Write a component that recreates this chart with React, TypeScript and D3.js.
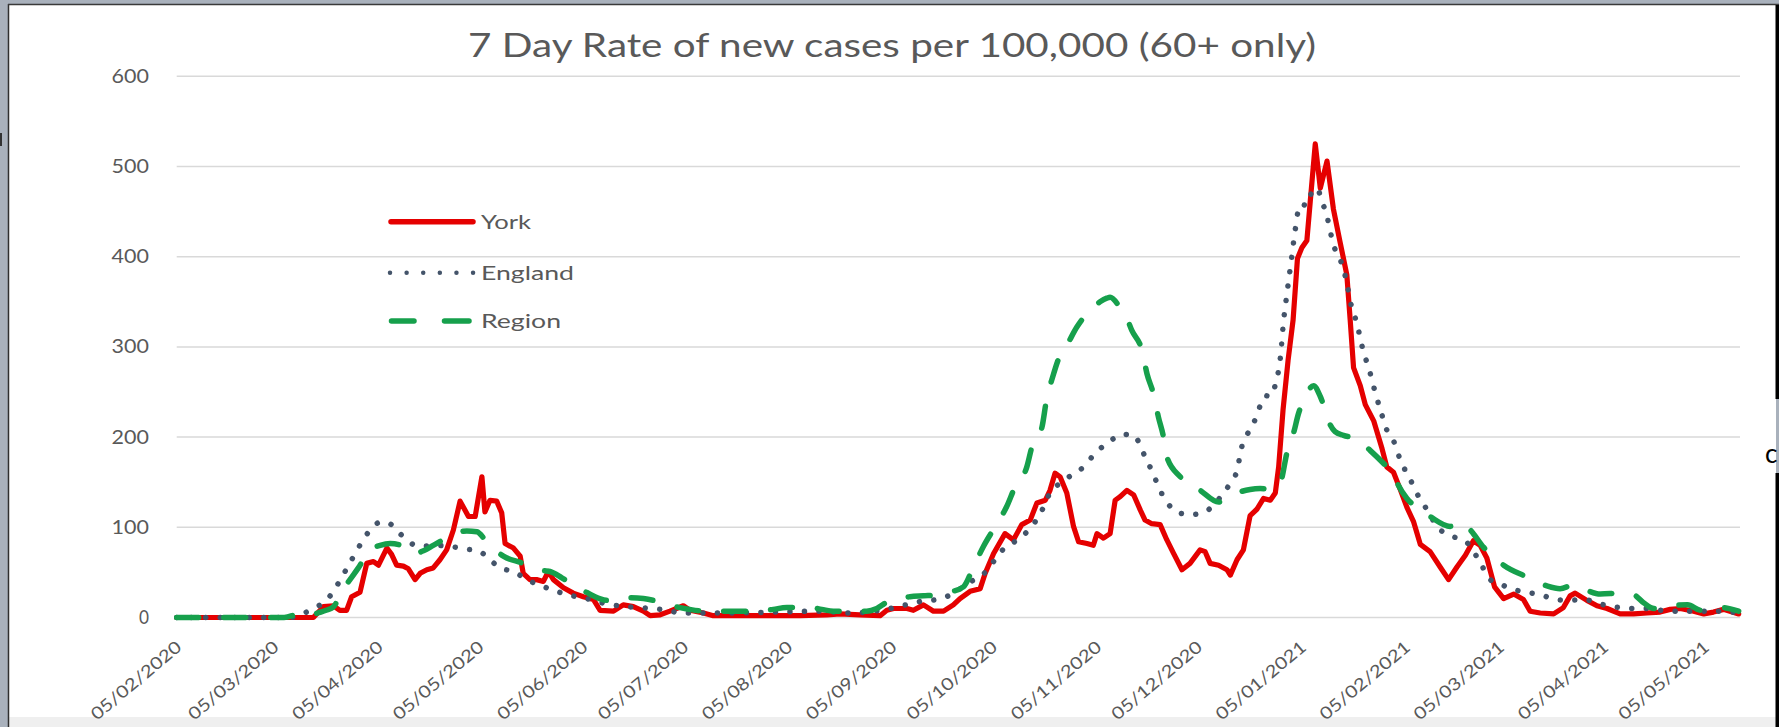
import React from "react";
import * as d3 from "d3";

// x values are days since 05/02/2020
const startDate = "05/02/2020";
const lastDay = 465.6;

const title = "7 Day Rate of new cases per 100,000 (60+ only)";
const yTicks = [0, 100, 200, 300, 400, 500, 600];
const xTickLabels = [
  "05/02/2020", "05/03/2020", "05/04/2020", "05/05/2020", "05/06/2020", "05/07/2020",
  "05/08/2020", "05/09/2020", "05/10/2020", "05/11/2020", "05/12/2020", "05/01/2021",
  "05/02/2021", "05/03/2021", "05/04/2021", "05/05/2021",
];
const seriesNames = ["York", "England", "Region"];

const york: [number, number][] = [
  [0, 0], [40.7, 0], [43.7, 12], [46.7, 13], [48.6, 8], [50.6, 8], [52.1, 23], [54.6, 28], [56.6, 60],
  [58.6, 62], [60.1, 58], [62.6, 77], [64, 70], [65.5, 58], [67.5, 57], [69, 54], [71, 42], [72.5, 49],
  [74.5, 53], [76.4, 55], [78.4, 64], [80.4, 75], [82.4, 97], [84.4, 129], [86.9, 112], [88.9, 112],
  [90.9, 156], [91.8, 117], [93.3, 130], [95.3, 129], [96.8, 116], [97.8, 82], [100.3, 77], [102.3, 68],
  [103.2, 49], [105.2, 42], [107.2, 42], [109.2, 40], [110.7, 51], [112.2, 42], [115.2, 33], [118.1, 27],
  [121.1, 23], [124.1, 20], [126.1, 8], [130.1, 7], [133, 14], [136, 12], [139, 7], [141, 2], [144, 3],
  [146.9, 7], [150.9, 13], [152.9, 8], [156.9, 5], [159.8, 2], [165.8, 2], [175.8, 2], [185.7, 2],
  [193.6, 3], [197.6, 4], [203.5, 3], [209.5, 2], [211.5, 8], [213.5, 10], [217.5, 10], [219.4, 8],
  [222.4, 14], [225.4, 7], [228.4, 7], [231.3, 14], [233.3, 21], [236.3, 29], [239.3, 32], [240.8, 49],
  [243.3, 71], [246.7, 93], [249.2, 86], [251.7, 103], [254.2, 108], [256.2, 127], [258.7, 130],
  [260.1, 141], [261.6, 160], [263.1, 156], [265.1, 138], [267.1, 101], [268.6, 84], [271.1, 82],
  [273, 80], [274.1, 93], [276, 88], [278, 93], [279.5, 130], [281, 134], [283, 141], [285, 136],
  [287, 119], [288.4, 108], [290.4, 104], [292.9, 103], [294.9, 86], [296.9, 71], [299.4, 53],
  [301.8, 60], [304.8, 75], [306.3, 73], [307.8, 60], [310.3, 58], [312.8, 53], [313.8, 47], [315.8, 64],
  [317.7, 75], [319.7, 113], [321.7, 120], [323.7, 132], [325.7, 130], [327.2, 138], [328.2, 167],
  [329.5, 230], [331, 285], [332.5, 330], [333.8, 398], [335.1, 410], [336.6, 418], [337.6, 461],
  [339.1, 525], [340.6, 476], [342.6, 506], [344.5, 453], [346.5, 416], [348.5, 380], [349.5, 330],
  [350.5, 277], [352.5, 257], [354, 236], [356.5, 218], [359, 187], [360.4, 167], [362.4, 161],
  [364.4, 142], [366.4, 122], [368.4, 106], [370.4, 81], [373.3, 73], [376.3, 56], [378.8, 42],
  [381.3, 56], [383.8, 69], [386.2, 85], [388.2, 80], [390.2, 66], [392.5, 34], [395.2, 21], [398.2, 26],
  [401.1, 20], [403.1, 7], [406.1, 5], [410.1, 4], [413, 11], [415, 24], [416.5, 27], [420, 19], [423, 13],
  [426, 10], [429.9, 4], [433.9, 4], [437.9, 5], [441.8, 6], [444.8, 9], [447.8, 10], [451.8, 7],
  [454.8, 4], [457.7, 6], [460.7, 9], [465.2, 4],
];

const england: [number, number][] = [
  [0, 0], [34, 0], [36.7, 3], [40.7, 10], [44.2, 18], [46.7, 29], [48.6, 41], [50.6, 54], [52.4, 66],
  [54.4, 79], [56.4, 91], [58.8, 102], [61, 106], [63, 105], [66, 95], [68.7, 85], [72.5, 79], [76.9, 80],
  [81.4, 79], [85.4, 76], [89.8, 74], [93.3, 64], [96.3, 55], [100.3, 51], [104.3, 42], [108, 36],
  [111.7, 31], [115.7, 26], [119.2, 23], [123.1, 20], [128.1, 15], [134, 12], [141.5, 10], [146, 8],
  [150.4, 5], [163.8, 5], [177.7, 6], [191.1, 7], [200.6, 5], [212.5, 10], [221.9, 18], [226.4, 20],
  [230.4, 25], [233.8, 33], [237.5, 42], [240.8, 50], [243.3, 62], [246, 75], [249.2, 83], [254.2, 99],
  [257.2, 115], [260.1, 138], [263.1, 149], [266.6, 158], [270.1, 167], [272.6, 178], [275, 187],
  [278.5, 197], [281.5, 203], [284.5, 203], [287, 191], [288.4, 178], [290.4, 163], [292.9, 141],
  [294.9, 128], [297.9, 117], [301.8, 114], [306.3, 117], [308.8, 125], [311.8, 138], [313.8, 149],
  [315.8, 163], [317.2, 189], [318.7, 202], [320.7, 215], [322.2, 230], [324.2, 246], [325.7, 245],
  [327.2, 258], [328.7, 288], [329.7, 330], [330.7, 360], [332.1, 400], [333.1, 429], [334.6, 458],
  [336.6, 457], [338.1, 472], [339.6, 476], [341.1, 461], [342.6, 445], [343.5, 429], [345, 408],
  [347, 392], [348.5, 371], [349.5, 351], [351.5, 326], [353.5, 294], [355, 277], [357, 249], [359, 224],
  [360.4, 208], [362.4, 196], [364.4, 175], [367.4, 153], [369.9, 134], [372.3, 120], [375.8, 99],
  [379.3, 91], [384.3, 83], [388.2, 61], [391.2, 42], [394.2, 37], [398.2, 31], [402.1, 28], [406.4, 25],
  [410.6, 20], [415, 19], [419, 20], [424, 15], [428, 12], [432.9, 10], [437.9, 10], [441.8, 8],
  [447.8, 7], [453.8, 7], [459.7, 7], [465.2, 5],
];

const region: [number, number][] = [
  [0, 0], [32, 0], [36.7, 4], [39.7, 2], [42, 5], [44.5, 8], [46.7, 12], [49.6, 31], [54.1, 55],
  [57.6, 75], [60.6, 80], [63.6, 82], [67.5, 79], [70.5, 71], [73.5, 74], [76.4, 80], [82.4, 92],
  [86.4, 96], [89.4, 95], [92.3, 84], [94.8, 75], [97.3, 68], [103.2, 60], [106.2, 55], [109.2, 52],
  [111.2, 51], [114.7, 44], [118.1, 36], [121.1, 30], [124, 24], [128.1, 19], [131, 21], [135, 22],
  [139, 21], [143, 18], [146.4, 14], [149.9, 11], [157.9, 7], [165.8, 7], [173.8, 7], [177.7, 9],
  [181.7, 11], [188.7, 11], [192.1, 9], [195.6, 7], [205.5, 7], [208.5, 10], [211.5, 17], [218.4, 23],
  [222.4, 24], [226.4, 25], [230, 28], [234.3, 34], [237.3, 56], [240.3, 79], [243.8, 101], [247.2, 123],
  [249.7, 145], [253.2, 167], [254.7, 189], [257.7, 211], [259, 240], [261, 268], [263, 290], [265.1, 302],
  [268.1, 322], [272.1, 341], [275, 350], [277, 354], [278, 355], [281, 344], [282, 340], [284.5, 318],
  [287.5, 296], [289, 270], [290.9, 248], [292.4, 222], [293.9, 200], [294.9, 178], [298.9, 156],
  [304.8, 141], [310.3, 128], [313, 133], [315.8, 138], [319.7, 142], [322.7, 143], [325.7, 142],
  [328.7, 150], [330.7, 183], [332.6, 204], [334.1, 226], [336.1, 245], [338.6, 257], [340.6, 245],
  [343.5, 214], [345, 206], [347.5, 202], [351.5, 198], [355.5, 185], [359.4, 171], [362.4, 159],
  [363.4, 150], [366.4, 132], [369.4, 122], [373.3, 112], [379.3, 101], [382.3, 106], [385.3, 97],
  [389.2, 78], [395.2, 58], [402.1, 45], [408.1, 35], [412, 32], [416, 36], [420, 30], [424, 26],
  [430, 27], [434, 25], [437, 16], [440, 10], [445, 13], [450, 14], [454, 8], [460, 11], [465.2, 7],
];

const DAY = 86400000;
const parse = d3.utcParse("%d/%m/%Y");

export default function App() {
  const W = 1779;
  const H = 727;
  const start = parse(startDate)!.getTime();
  const toDate = (d: number) => new Date(start + d * DAY);

  const x = d3.scaleUtc().domain([toDate(0), toDate(lastDay)]).range([176.7, 1740]);
  const y = d3.scaleLinear().domain([0, 600]).range([617.5, 76.3]);

  const lineOf = (data: [number, number][], curve: d3.CurveFactory) =>
    d3
      .line<[number, number]>()
      .x((d) => x(toDate(d[0])))
      .y((d) => y(d[1]))
      .curve(curve)(data) || "";

  const red = "#e50000";
  const grey = "#44546a";
  const green = "#16a04c";
  const txt = "#595959";
  const font = "Lato, 'Open Sans', sans-serif";

  const tickDates = xTickLabels.map((s) => parse(s)!);

  return (
    <svg
      width={W}
      height={H}
      viewBox={`0 0 ${W} ${H}`}
      style={{ position: "absolute", left: 0, top: 0, display: "block" }}
    >
      {/* window frame */}
      <rect x={0} y={0} width={W} height={H} fill="#a9b1bc" />
      <rect x={9} y={5} width={1767} height={722} fill="#ffffff" />
      <rect x={9} y={717} width={1767} height={10} fill="#efefef" />
      <line x1={8.5} y1={4} x2={8.5} y2={H} stroke="#2f2f2f" strokeWidth={1.5} />
      <line x1={8} y1={4.5} x2={1779} y2={4.5} stroke="#3a3a3a" strokeWidth={1.5} />
      <rect x={0} y={133} width={2} height={13} fill="#333" />
      <rect x={1775.5} y={5} width={3.5} height={394} fill="#000" />
      <rect x={1775.5} y={473} width={3.5} height={254} fill="#000" />
      <text x={1765} y={463} fontFamily={font} fontSize={26} fill="#000">c</text>

      {/* gridlines */}
      {yTicks.map((t) => (
        <line key={t} x1={176.7} x2={1740} y1={y(t)} y2={y(t)} stroke="#d9d9d9" strokeWidth={1.5} />
      ))}
      {yTicks.map((t) => {
        const s = String(t);
        return (
          <text
            key={"l" + t}
            x={149}
            y={y(t) + 6.5}
            textAnchor="end"
            fontFamily={font}
            fontSize={18.5}
            fill={txt}
            textLength={s.length * 13.7 - 3.7}
            lengthAdjust="spacingAndGlyphs"
          >
            {s}
          </text>
        );
      })}

      {/* x labels */}
      {tickDates.map((d, i) => {
        const tx = x(d) + 6;
        const ty = 649;
        return (
          <text
            key={xTickLabels[i]}
            x={tx}
            y={ty}
            transform={`rotate(-40 ${tx} ${ty})`}
            textAnchor="end"
            fontFamily={font}
            fontSize={17}
            fill={txt}
            textLength={112}
            lengthAdjust="spacingAndGlyphs"
          >
            {xTickLabels[i]}
          </text>
        );
      })}

      {/* title */}
      <text
        x={468}
        y={57}
        fontFamily={font}
        fontSize={32}
        fill={txt}
        textLength={848}
        lengthAdjust="spacingAndGlyphs"
      >
        {title}
      </text>

      {/* series */}
      <path d={lineOf(york, d3.curveLinear)} fill="none" stroke={red} strokeWidth={5.2} strokeLinejoin="round" strokeLinecap="round" />
      <path
        d={lineOf(england, d3.curveMonotoneX)}
        fill="none"
        stroke={grey}
        strokeWidth={5.5}
        strokeLinecap="round"
        strokeDasharray="0.01 14.5"
      />
      <path
        d={lineOf(region, d3.curveMonotoneX)}
        fill="none"
        stroke={green}
        strokeWidth={5.5}
        strokeLinecap="round"
        strokeDasharray="22 25"
      />

      {/* legend */}
      <line x1={391} x2={473} y1={221.7} y2={221.7} stroke={red} strokeWidth={5.5} strokeLinecap="round" />
      <line x1={390} x2={475} y1={272.7} y2={272.7} stroke={grey} strokeWidth={4.5} strokeLinecap="round" strokeDasharray="0.01 16.6" />
      <line x1={391.5} x2={414} y1={321} y2={321} stroke={green} strokeWidth={5.5} strokeLinecap="round" />
      <line x1={444.5} x2={469} y1={321} y2={321} stroke={green} strokeWidth={5.5} strokeLinecap="round" />
      {seriesNames.map((n, i) => (
        <text
          key={n}
          x={481}
          y={[229, 280, 328][i]}
          fontFamily={font}
          fontSize={19.5}
          fill={txt}
          textLength={[50, 93, 80][i]}
          lengthAdjust="spacingAndGlyphs"
        >
          {n}
        </text>
      ))}
    </svg>
  );
}
